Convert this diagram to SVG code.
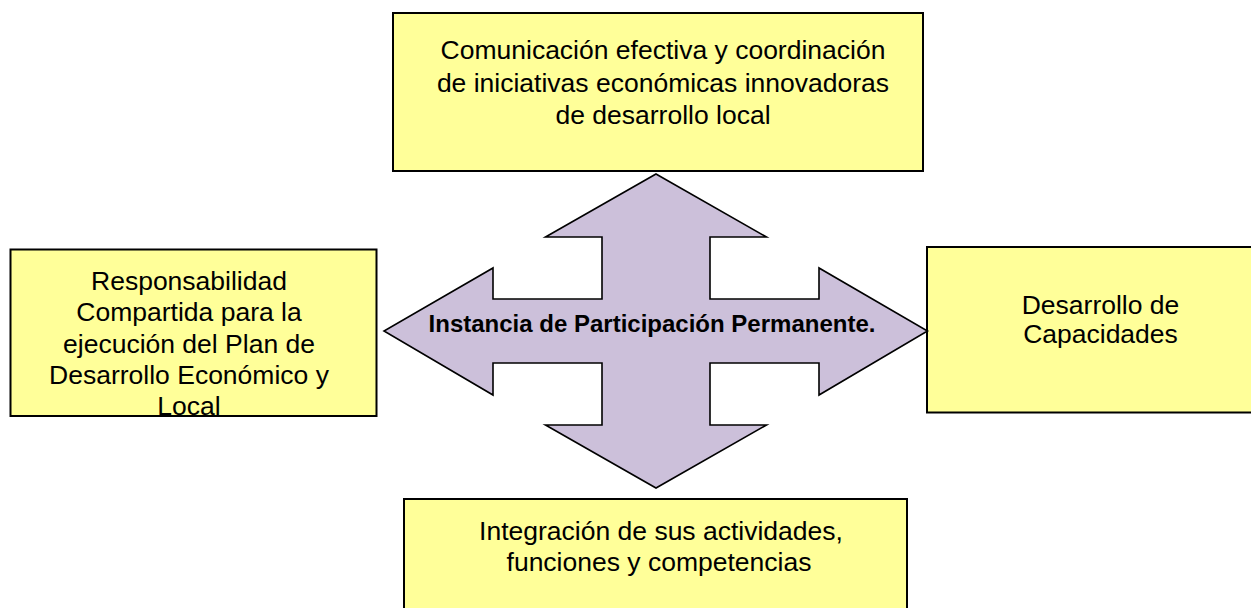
<svg xmlns="http://www.w3.org/2000/svg" width="1251" height="608" viewBox="0 0 1251 608">
  <style>
    .box { fill: #FFFF99; stroke: #000; stroke-width: 2; }
    .arrow { fill: #CCC0DA; stroke: #000; stroke-width: 1.6; stroke-linejoin: miter; }
    .t { font-family: "Liberation Sans", Arial, sans-serif; font-size: 26.5px; fill: #000; text-anchor: middle; }
    .b { font-family: "Liberation Sans", Arial, sans-serif; font-size: 24px; font-weight: bold; fill: #000; text-anchor: middle; }
  </style>
  <rect width="1251" height="608" fill="#fff"/>
  <g id="top-node">
    <rect class="box" x="393" y="13" width="530" height="158"/>
    <text class="t" x="663" y="59">Comunicación efectiva y coordinación</text>
    <text class="t" x="663" y="91.5">de iniciativas económicas innovadoras</text>
    <text class="t" x="663" y="124">de desarrollo local</text>
  </g>
  <g id="left-node">
    <rect class="box" x="10.5" y="249.5" width="366" height="166.5"/>
    <text class="t" x="189" y="289.5">Responsabilidad</text>
    <text class="t" x="189" y="321">Compartida para la</text>
    <text class="t" x="189" y="352.5">ejecución del Plan de</text>
    <text class="t" x="189" y="384">Desarrollo Económico y</text>
    <text class="t" x="189" y="415">Local</text>
  </g>
  <g id="right-node">
    <rect class="box" x="927" y="247" width="340" height="165.5"/>
    <text class="t" x="1100.5" y="314">Desarrollo de</text>
    <text class="t" x="1100.5" y="343">Capacidades</text>
  </g>
  <g id="bottom-node">
    <rect class="box" x="404" y="499" width="503" height="130"/>
    <text class="t" x="661" y="539.5">Integración de sus actividades,</text>
    <text class="t" x="659" y="570.5">funciones y competencias</text>
  </g>
  <g id="center-node">
    <polygon class="arrow" points="656,174 766.5,237 710,237 710,299 819,299 819,268 927.5,331 819,395 819,363 710,363 710,425 766.5,425 656,488 545.5,425 602,425 602,363 493,363 493,395 384,331 493,268 493,299 602,299 602,237 545.5,237"/>
    <text class="b" x="652" y="332">Instancia de Participación Permanente.</text>
  </g>
  <g id="connectors"/>
</svg>
